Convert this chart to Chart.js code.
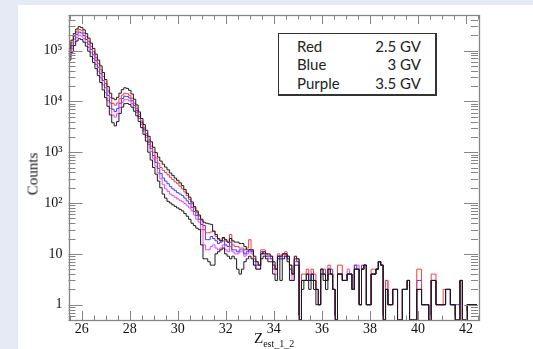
<!DOCTYPE html>
<html>
<head>
<meta charset="utf-8">
<script src="https://cdn.jsdelivr.net/npm/chart.js@4.4.0/dist/chart.umd.min.js"></script>
<style>
  html, body { margin: 0; padding: 0; }
  body { width: 533px; height: 349px; overflow: hidden; background: #e4ebf4; position: relative; }
  #panel { position: absolute; left: 18px; top: 5px; width: 515px; height: 344px; background: #fff; }
  #chart { position: absolute; left: 0; top: 0; }
  #ytitle { position: absolute; left: 33px; top: 174px; transform: translate(-50%, -50%) rotate(-90deg);
    font: 15px "Liberation Serif", serif; color: #111; white-space: nowrap; }
  #xtitle { position: absolute; left: 254px; top: 330px; font: 15px "Liberation Serif", serif; color: #111; white-space: nowrap; }
  #xtitle sub { font-size: 10px; vertical-align: -4px; }
  #legend { position: absolute; left: 278px; top: 33px; width: 156px; height: 57px; background: #fff;
    border: 1px solid #333; border-right-width: 2px; border-bottom-width: 2px;
    font: 15px Lato, sans-serif; color: #222; padding-top: 3px; box-sizing: content-box; }
  #legend div { display: flex; justify-content: space-between; padding: 0 14px 0 18px; line-height: 18.4px; }
</style>
</head>
<body>
<div id="panel"></div>
<canvas id="chart" width="533" height="349"></canvas>
<div id="ytitle">Counts</div>
<div id="xtitle">Z<sub>est_1_2</sub></div>
<div id="legend"></div>
<script>
// histogram binning (bin i covers BIN_START + i*BIN_WIDTH ... + BIN_WIDTH)
const BIN_START = 25.45;
const BIN_WIDTH = 0.1;

const legendRows = [['Red', '2.5 GV'], ['Blue', '3 GV'], ['Purple', '3.5 GV']];

const xTickVals = [26, 28, 30, 32, 34, 36, 38, 40, 42];
const yTickVals = [1, 10, 100, 1000, 10000, 100000];
const yTickLabels = ['1', '10', '10\u00B2', '10\u00B3', '10\u2074', '10\u2075'];

// counts per bin
const blackUpper = [
  110000,160000,215000,265000,295000,285000,255000,215000,175000,140000,
  110000,85000,65000,50000,37000,27000,19500,14500,11500,10800,
  12000,14500,17000,18500,18000,16500,14000,11000,8500,6200,
  4600,3500,2700,2050,1600,1250,980,800,670,580,
  510,450,390,350,310,280,250,220,185,155,
  130,105,85,70,58,48,42,40,39,38,
  28,24,20,18,21,19,17,20,18,17,
  17,16,16,14,12,12,12,9,7,6,
  10,11,10,10,9,7,5,9,9,10,
  10,9,6,4,9,8,0,3,3,4,
  3,4,3,2,1,5,4,3,5,4,
  2,0,4,4,3,3,4,4,2,5,
  5,1,5,6,1,1,4,4,5,7,
  6,0,2,1,1,2,2,0,0,2,
  2,3,0,0,0,2,2,1,1,1,
  0,3,3,1,1,1,1,2,2,1,
  1,0,0,3,0,0,1,1,1,1,
];
const red = [
  98000,142000,190000,233000,260000,250000,223000,188000,152000,121000,
  95000,73000,55000,42000,31000,22500,16000,11800,9100,8400,
  9300,11300,13300,14400,14200,13200,11500,9200,7300,5500,
  4100,3100,2350,1750,1320,1000,770,610,500,440,
  400,360,320,290,260,240,215,190,165,140,
  118,97,80,66,55,45,30,26,26,27,
  28,22,19,18,20,18,17,24,15,14,
  14,13,13,12,13,19,12,8,7,6,
  12,12,10,9,9,6,5,10,9,10,
  11,9,6,4,8,8,0,4,4,5,
  4,5,4,2,1,5,5,3,6,4,
  2,0,6,6,3,3,4,4,2,5,
  5,1,5,6,1,1,5,5,5,7,
  6,0,3,1,1,2,2,0,0,2,
  2,3,0,0,0,5,5,1,1,1,
  0,4,4,1,1,1,2,2,2,1,
  1,0,0,3,0,0,1,1,1,1,
];
const blue = [
  87000,125000,168000,206000,230000,221000,197000,165000,133000,105000,
  82000,63000,47000,35000,25500,18500,13000,9300,7000,6300,
  7200,9200,11400,12600,12500,11700,10200,8300,6600,5000,
  3800,2850,2150,1580,1170,860,630,480,380,310,
  270,240,210,190,175,160,150,140,125,110,
  97,82,68,57,48,38,36,19,19,22,
  20,18,16,17,18,15,14,17,12,12,
  11,12,12,10,11,12,11,7,6,6,
  11,10,9,9,8,6,5,9,8,10,
  10,8,5,4,8,7,0,3,3,4,
  3,4,3,2,1,5,4,3,5,5,
  2,0,4,4,3,3,4,4,2,6,
  5,1,6,6,1,1,4,4,5,7,
  6,0,2,1,1,2,2,0,0,2,
  2,3,0,0,0,3,3,1,1,1,
  0,3,3,1,1,1,1,2,2,1,
  1,1,1,3,0,0,1,1,1,1,
];
const purple = [
  76000,108000,146000,180000,200000,192000,171000,143000,115000,90000,
  70000,53000,39000,29000,21000,15000,10400,7300,5400,4900,
  5700,7600,9600,10800,10800,10200,9000,7400,6000,4600,
  3500,2600,1950,1420,1030,740,530,390,300,230,
  190,170,150,140,130,120,113,106,98,88,
  80,70,58,48,42,30,15,12,12,14,
  15,13,12,13,15,12,11,14,11,10,
  10,11,11,9,10,11,10,6,5,5,
  10,10,9,8,8,5,4,9,8,9,
  10,8,5,3,7,7,0,3,3,3,
  3,4,3,2,1,4,4,3,5,4,
  2,0,4,4,3,3,5,4,2,6,
  6,1,5,6,1,1,4,4,5,7,
  6,0,3,1,1,2,2,0,0,2,
  2,3,0,0,0,2,2,1,1,1,
  0,3,3,1,1,1,1,2,2,1,
  1,0,0,3,0,0,1,1,1,1,
];
const blackLower = [
  65000,93000,125000,154000,171000,164000,146000,122000,97000,76000,
  58000,44000,32000,23500,16800,11800,8000,5400,3800,3300,
  4000,5800,7700,9000,9100,8700,7700,6400,5200,4000,
  3050,2250,1650,1000,700,500,370,270,200,150,
  125,108,100,92,86,80,75,70,62,55,
  48,40,36,32,30,15,8,8,7,6,
  6,10,11,12,13,10,9,8,9,8,
  5,4,5,7,8,9,8,6,5,5,
  8,9,8,7,7,4,3,8,3,8,
  9,7,3,3,6,6,0,2,3,3,
  2,3,2,1,1,4,3,2,4,4,
  2,0,4,4,3,3,4,4,2,5,
  5,1,5,6,1,1,4,4,5,7,
  6,0,2,1,1,2,2,0,0,2,
  2,3,0,0,0,2,2,1,1,1,
  0,3,3,1,1,1,1,2,2,1,
  1,0,0,3,0,0,1,1,1,1,
];

const Y_MIN = 0.5;
const Y_MAX = 5e5;
const X_MIN = 25.45;
const X_MAX = 42.5;

document.getElementById('legend').innerHTML = legendRows
  .map(([a, b]) => `<div><span>${a}</span><span>${b}</span></div>`)
  .join('');

// histogram outline: one point per bin low edge, plus the last high edge
function histPoints(vals) {
  const pts = vals.map((v, i) => ({ x: BIN_START + i * BIN_WIDTH, y: v > 0 ? v : Y_MIN }));
  const last = vals[vals.length - 1];
  pts.push({ x: BIN_START + vals.length * BIN_WIDTH, y: last > 0 ? last : Y_MIN });
  return pts;
}

function histSet(label, vals, color) {
  return { label, data: histPoints(vals), borderColor: color, borderWidth: 1, stepped: true, pointRadius: 0, fill: false };
}

// ROOT-style frame with inward ticks on all four sides
const frameTicks = {
  id: 'frameTicks',
  afterDatasetsDraw(chart) {
    const { ctx, chartArea: a, scales: { x, y } } = chart;
    ctx.save();
    ctx.strokeStyle = '#858585';
    ctx.lineWidth = 1;
    ctx.beginPath();
    for (let k = 0; k <= 34; k++) {
      const v = 25.5 + k * 0.5;
      if (v > X_MAX) break;
      const px = Math.round(x.getPixelForValue(v)) + 0.5;
      const len = Number.isInteger(v) && v % 2 === 0 ? 9 : 4.5;
      ctx.moveTo(px, a.bottom); ctx.lineTo(px, a.bottom - len);
      ctx.moveTo(px, a.top); ctx.lineTo(px, a.top + len);
    }
    for (let d = -1; d <= 5; d++) {
      for (let m = 1; m <= 9; m++) {
        const v = m * Math.pow(10, d);
        if (v < Y_MIN || v > Y_MAX) continue;
        const py = Math.round(y.getPixelForValue(v)) + 0.5;
        const len = m === 1 ? 14 : 7;
        ctx.moveTo(a.left, py); ctx.lineTo(a.left + len, py);
        ctx.moveTo(a.right, py); ctx.lineTo(a.right - len, py);
      }
    }
    ctx.stroke();
    ctx.lineWidth = 1.3;
    ctx.strokeRect(Math.round(a.left) + 0.5, Math.round(a.top) + 0.5, Math.round(a.right - a.left), Math.round(a.bottom - a.top));
    ctx.restore();
  },
};

const tickFont = { family: '"Liberation Serif", serif', size: 14 };

new Chart(document.getElementById('chart'), {
  type: 'line',
  data: {
    datasets: [
      histSet('black upper', blackUpper, '#1a1a1a'),
      histSet('black lower', blackLower, '#1a1a1a'),
      histSet('Red', red, '#ff3c3c'),
      histSet('Blue', blue, '#3c3cff'),
      histSet('Purple', purple, '#ff3cff'),
    ],
  },
  options: {
    responsive: false,
    animation: false,
    devicePixelRatio: 1,
    layout: { padding: { left: 0, top: 15, right: 55, bottom: 0 } },
    plugins: { legend: { display: false }, tooltip: { enabled: false } },
    scales: {
      x: {
        type: 'linear',
        min: X_MIN,
        max: X_MAX,
        grid: { display: false, drawTicks: false },
        border: { display: false },
        afterBuildTicks: (s) => { s.ticks = xTickVals.map((v) => ({ value: v })); },
        afterFit: (s) => { s.height = 29; },
        ticks: { font: tickFont, color: '#111', padding: 1, maxRotation: 0, autoSkip: false, callback: (v) => String(v) },
      },
      y: {
        type: 'logarithmic',
        min: Y_MIN,
        max: Y_MAX,
        grid: { display: false, drawTicks: false },
        border: { display: false },
        afterBuildTicks: (s) => { s.ticks = yTickVals.map((v) => ({ value: v })); },
        afterFit: (s) => { s.width = 68.5; },
        ticks: {
          font: tickFont,
          color: '#111',
          padding: 6,
          autoSkip: false,
          callback: (v) => { const i = yTickVals.indexOf(v); return i >= 0 ? yTickLabels[i] : ''; },
        },
      },
    },
  },
  plugins: [frameTicks],
});
</script>
</body>
</html>
